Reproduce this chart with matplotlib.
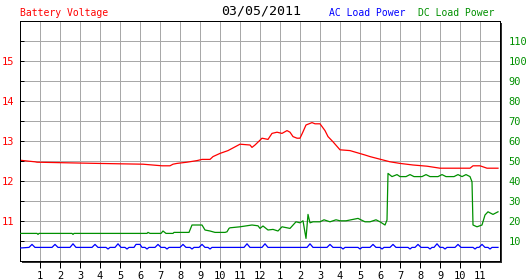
import matplotlib
matplotlib.use("Agg")
import matplotlib.pyplot as plt
from matplotlib.patches import Rectangle

# ---------------- data ----------------
date_title = "03/05/2011"
hour_ticks = list(range(1, 24))
hour_labels = [str(h) for h in range(1, 13)] + [str(h) for h in range(1, 12)]
volt_ticks = [15, 14, 13, 12, 11]
power_ticks = [10, 20, 30, 40, 50, 60, 70, 80, 90, 100, 110]

volt_hours = [0, 0.35, 0.75, 0.85, 3.85, 6.15, 7.1, 7.5, 7.65, 7.85, 8.35, 8.85, 9.1, 9.5,
              9.65, 10, 10.4, 11, 11.5, 11.6, 11.75, 12, 12.1, 12.4, 12.6, 12.85, 13.1,
              13.35, 13.5, 13.65, 13.85, 14, 14.15, 14.3, 14.6, 14.75, 15, 15.25, 15.4,
              15.65, 16, 16.5, 17.25, 17.5, 18.5, 19, 19.65, 20.35, 21, 22.5, 22.65, 23,
              23.35, 23.9]
volt = [12.52, 12.5, 12.48, 12.47, 12.44, 12.42, 12.38, 12.38, 12.42, 12.44, 12.47, 12.51,
        12.54, 12.54, 12.61, 12.69, 12.76, 12.92, 12.9, 12.84, 12.9, 13.02, 13.07, 13.04,
        13.19, 13.22, 13.19, 13.26, 13.22, 13.11, 13.07, 13.07, 13.23, 13.4, 13.46, 13.43,
        13.43, 13.26, 13.11, 12.98, 12.78, 12.76, 12.65, 12.61, 12.48, 12.44, 12.4, 12.37,
        12.32, 12.32, 12.38, 12.38, 12.32, 12.32]

dc_hours = [0, 0.85, 0.9, 0.95, 2.6, 2.65, 2.7, 6.35, 6.4, 6.5, 7.05, 7.15, 7.3, 7.65, 7.7,
            8.45, 8.6, 9.1, 9.25, 9.5, 9.75, 10.25, 10.35, 10.45, 10.5, 11, 11.6, 11.9, 12,
            12.15, 12.4, 12.65, 12.9, 13.1, 13.5, 13.8, 14, 14.15, 14.3, 14.4, 14.5, 14.65,
            15, 15.2, 15.5, 15.8, 16, 16.3, 16.9, 17.25, 17.5, 17.8, 18, 18.25, 18.35,
            18.4, 18.6, 18.85, 19.0, 19.3, 19.5, 19.7, 20.1, 20.3, 20.5, 20.9, 21.1, 21.3,
            21.7, 21.9, 22.1, 22.3, 22.5, 22.6, 22.65, 22.85, 23.1, 23.25, 23.4, 23.65, 23.9]
dc_power = [13.8, 13.8, 13.3, 13.8, 13.8, 13.3, 13.8, 13.8, 14.3, 13.8, 13.8, 15.0, 13.8,
            13.8, 14.3, 14.3, 18.0, 18.0, 15.5, 15.0, 14.3, 14.3, 14.6, 16.3, 16.6, 17.1,
            18.0, 17.6, 16.3, 17.5, 15.5, 15.8, 15.0, 17.1, 16.3, 19.6, 19.1, 20.1, 11.3,
            23.3, 19.1, 19.6, 19.6, 20.6, 19.6, 20.6, 20.1, 20.1, 21.3, 19.6, 19.6, 20.6,
            19.6, 18.0, 20.5, 43.8, 42.2, 43.2, 42.2, 42.2, 43.2, 42.2, 42.2, 43.2, 42.2,
            42.2, 43.2, 42.2, 42.2, 43.2, 42.2, 43.2, 42.2, 39.6, 18.0, 17.1, 18.0, 23.0,
            24.6, 23.3, 24.6]

ac_hours = [0, 0.45, 0.6, 0.75, 1.6, 1.75, 1.9, 2.5, 2.65, 2.8, 3.6, 3.75, 3.9, 4.3, 4.4,
            4.5, 4.75, 4.9, 5.05, 5.25, 5.35, 5.45, 5.7, 5.8, 6.0, 6.1, 6.25, 6.35, 6.45,
            6.75, 6.9, 7.05, 7.25, 7.35, 7.45, 8.0, 8.15, 8.3, 8.5, 8.6, 8.7, 8.95, 9.1,
            9.25, 9.4, 9.5, 9.6, 11.2, 11.35, 11.5, 12.1, 12.25, 12.4, 14.35, 14.5, 14.65,
            15.35, 15.5, 15.65, 16.05, 16.15, 16.25, 16.9, 17.0, 17.1, 17.5, 17.65, 17.8,
            18.0, 18.1, 18.2, 18.5, 18.65, 18.8, 19.4, 19.5, 19.6, 19.75, 19.9, 20.05,
            20.4, 20.5, 20.6, 20.7, 20.85, 21.0, 21.15, 21.25, 21.35, 21.75, 21.9, 22.05,
            22.65, 22.75, 22.85, 22.95, 23.1, 23.25, 23.4, 23.5, 23.6, 23.9]
ac_power = [6.5, 6.8, 8.3, 6.8, 6.8, 8.3, 6.8, 6.8, 8.6, 6.8, 6.8, 8.3, 6.8, 6.8, 6.0,
            6.8, 6.8, 8.6, 6.8, 6.8, 6.0, 6.8, 6.8, 8.3, 8.3, 6.8, 6.8, 6.0, 6.8,
            6.8, 8.3, 6.8, 6.8, 6.0, 6.8, 6.8, 8.3, 6.8, 6.8, 6.0, 6.8, 6.8, 8.3,
            6.8, 6.8, 6.0, 6.8, 6.8, 8.6, 6.8, 6.8, 8.6, 6.8, 6.8, 8.6, 6.8,
            6.8, 8.3, 6.8, 6.8, 6.0, 6.8, 6.8, 6.0, 6.8, 6.8, 8.3, 6.8,
            6.8, 6.0, 6.8, 6.8, 8.3, 6.8, 6.8, 6.0, 6.8, 6.8, 8.3, 6.8,
            6.8, 6.0, 6.8, 6.8, 8.6, 6.8, 6.8, 6.0, 6.8, 6.8, 8.3, 6.8,
            6.8, 6.0, 6.8, 6.8, 8.3, 6.8, 6.8, 6.0, 6.8, 6.8]

# ---------------- styling ----------------
RED = "#ff0000"
GREEN = "#009000"
BLUE = "#0000ff"
GRID = "#a8a8a8"
MONO = "DejaVu Sans Mono"
LW = 0.72   # one pixel at 100 dpi
DLW = 0.9   # data lines

W, H = 527, 280
fig = plt.figure(figsize=(W / 100, H / 100), dpi=100, facecolor="white")

L, B, PW, PH = 20, 19, 480, 240
# drop shadow
fig.patches.append(Rectangle(((L + 2) / W, (B - 2) / H), PW / W, PH / H,
                             transform=fig.transFigure, facecolor="#303030",
                             edgecolor="none", zorder=-5))
ax = fig.add_axes([L / W, B / H, PW / W, PH / H])
ax.set_facecolor("white")
ax.set_xlim(0, 24)
ax.set_ylim(10, 16)

# grid
for h in hour_ticks:
    ax.axvline(h, color=GRID, lw=LW, zorder=0.5, antialiased=False)
for k in range(1, 12):
    ax.axhline(10 + 0.5 * k, color=GRID, lw=LW, zorder=0.5, antialiased=False)

ax.plot(volt_hours, volt, color=RED, lw=DLW, zorder=3)

ax.set_xticks(hour_ticks)
ax.set_xticklabels(hour_labels, family=MONO, fontsize=7.5)
ax.tick_params(axis="x", direction="out", length=5, width=LW, color="black", pad=2)
ax.set_yticks([10 + 0.5 * k for k in range(1, 12)])
ax.set_yticklabels(["" if (10 + 0.5 * k) not in volt_ticks else str(int(10 + 0.5 * k))
                    for k in range(1, 12)], family=MONO, fontsize=7.5, color=RED)
ax.tick_params(axis="y", direction="in", length=3, width=LW, color="black", pad=4)
for s in ax.spines.values():
    s.set_color("black")
    s.set_linewidth(LW)

ax2 = ax.twinx()
ax2.set_ylim(0, 120)
ax2.plot(dc_hours, dc_power, color=GREEN, lw=DLW, zorder=3)
ax2.plot(ac_hours, ac_power, color=BLUE, lw=DLW, zorder=3)
ax2.set_yticks(power_ticks)
ax2.set_yticklabels([str(p) for p in power_ticks], family=MONO, fontsize=7.5, color=GREEN)
ax2.tick_params(axis="y", length=0, pad=6)
for s in ax2.spines.values():
    s.set_color("black")
    s.set_linewidth(LW)

# header texts
fig.text(20 / W, 1 - 13 / H, "Battery Voltage", color=RED, family=MONO, fontsize=7,
         ha="left", va="center")
fig.text(261 / W, 1 - 10.5 / H, date_title, color="black", family=MONO, fontsize=9.5,
         ha="center", va="center")
fig.text(329 / W, 1 - 13 / H, "AC Load Power", color=BLUE, family=MONO, fontsize=7,
         ha="left", va="center")
fig.text(418 / W, 1 - 13 / H, "DC Load Power", color=GREEN, family=MONO, fontsize=7,
         ha="left", va="center")

fig.savefig("out.png", dpi=100, facecolor="white")
